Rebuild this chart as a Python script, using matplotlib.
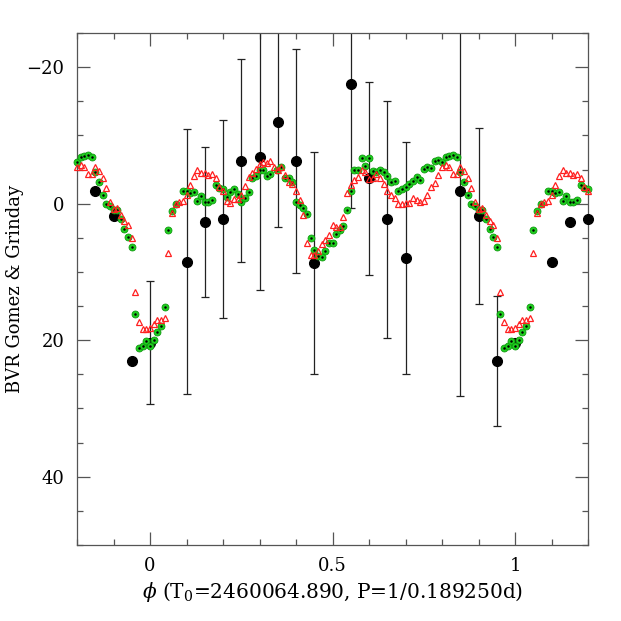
import matplotlib
matplotlib.use('Agg')
import matplotlib.pyplot as plt
from matplotlib.ticker import MultipleLocator, FuncFormatter
import numpy as np

plt.rcParams['font.family'] = ['DejaVu Serif']
plt.rcParams['mathtext.fontset'] = 'dejavuserif'

# black points with error bars (phase 0..1)
ph_b = [0.0, 0.1, 0.15, 0.2, 0.25, 0.3, 0.35, 0.4, 0.45, 0.55, 0.6, 0.65, 0.7, 0.85, 0.9, 0.95]
val_b = [20.4, 8.5, 2.65, 2.2, -6.3, -6.8, -11.9, -6.3, 8.7, -17.5, -3.7, 2.3, 7.9, -1.9, 1.8, 23.1]
err_b = [9.0, 19.4, 11.0, 14.5, 14.85, 19.5, 15.25, 16.4, 16.2, 18.2, 14.1, 17.4, 17.0, 30.1, 12.9, 9.5]

# green circles
ph_g = [0.00, 0.01, 0.02, 0.03, 0.04, 0.05, 0.06, 0.07, 0.089, 0.10, 0.11, 0.12, 0.13, 0.14,
        0.15, 0.16, 0.17, 0.18, 0.19, 0.20, 0.21, 0.22, 0.23, 0.24, 0.25, 0.26, 0.27, 0.28,
        0.29, 0.30, 0.31, 0.32, 0.33, 0.347, 0.36, 0.37, 0.38, 0.39, 0.40, 0.41, 0.42, 0.43,
        0.44, 0.45, 0.46, 0.47, 0.48, 0.49, 0.50, 0.51, 0.52, 0.53, 0.54, 0.55, 0.56, 0.57,
        0.58, 0.59, 0.60, 0.61, 0.62, 0.63, 0.64, 0.65, 0.66, 0.67, 0.68, 0.69, 0.70, 0.71,
        0.72, 0.73, 0.74, 0.75, 0.76, 0.77, 0.78, 0.79, 0.80, 0.81, 0.82, 0.83, 0.84, 0.85,
        0.86, 0.87, 0.88, 0.89, 0.90, 0.91, 0.92, 0.93, 0.94, 0.95, 0.96, 0.97, 0.98, 0.99]
val_g = [20.8, 19.9, 18.8, 17.9, 15.1, 3.9, 1.1, 0.0, -1.8, -1.9, -1.6, -1.7, -0.4, -1.1,
         -0.3, -0.3, -0.5, -2.8, -2.3, -2.2, -1.0, -1.7, -2.1, -1.4, -0.2, -0.9, -1.7, -3.8,
         -4.0, -5.0, -5.0, -4.1, -4.4, -5.0, -5.3, -3.7, -3.7, -3.2, -0.2, 0.15, 0.7, 1.5,
         5.0, 6.8, 7.6, 7.8, 6.9, 5.7, 5.7, 4.4, 3.9, 3.3, 0.9, -1.9, -5.0, -5.0,
         -6.7, -5.5, -6.7, -4.8, -4.6, -5.0, -4.6, -4.1, -3.1, -3.3, -1.8, -2.2, -2.4, -2.9,
         -3.3, -3.9, -3.5, -5.1, -5.3, -5.2, -6.2, -6.4, -6.1, -6.8, -7.0, -7.1, -6.9, -4.6,
         -3.1, -1.3, 0.05, 0.4, 0.9, 0.9, 2.3, 3.7, 4.9, 6.3, 16.1, 21.1, 20.9, 20.1]

# red triangles
ph_r = [0.00, 0.01, 0.02, 0.03, 0.04, 0.05, 0.06, 0.07, 0.08, 0.09, 0.10, 0.11, 0.12, 0.13,
        0.14, 0.15, 0.16, 0.17, 0.18, 0.19, 0.20, 0.21, 0.22, 0.23, 0.24, 0.25, 0.26, 0.27,
        0.28, 0.29, 0.30, 0.31, 0.32, 0.33, 0.34, 0.35, 0.36, 0.37, 0.38, 0.39, 0.40, 0.41,
        0.42, 0.43, 0.44, 0.45, 0.46, 0.47, 0.48, 0.49, 0.50, 0.51, 0.52, 0.53, 0.54, 0.55,
        0.56, 0.57, 0.58, 0.59, 0.60, 0.61, 0.62, 0.63, 0.64, 0.65, 0.66, 0.67, 0.68, 0.69,
        0.70, 0.71, 0.72, 0.73, 0.74, 0.75, 0.76, 0.77, 0.78, 0.79, 0.80, 0.81, 0.82, 0.83,
        0.84, 0.85, 0.86, 0.87, 0.88, 0.89, 0.90, 0.91, 0.92, 0.93, 0.94, 0.95, 0.96, 0.97,
        0.98, 0.99]
val_r = [18.2, 17.7, 17.0, 17.1, 16.8, 7.3, 1.4, 0.0, -0.3, -0.4, -1.3, -2.8, -4.0, -5.0,
         -4.5, -4.5, -4.2, -4.3, -3.7, -2.5, -1.8, -0.4, -0.05, -0.7, -0.7, -1.3, -2.6, -3.9,
         -4.5, -5.1, -5.8, -6.1, -5.9, -6.2, -5.3, -5.0, -5.4, -4.2, -3.2, -2.9, -1.9, -0.6,
         1.7, 5.7, 7.5, 7.5, 6.9, 5.9, 5.3, 4.6, 3.1, 3.4, 3.4, 2.0, -1.6, -2.7,
         -3.5, -3.9, -4.9, -4.6, -3.6, -3.8, -4.3, -3.8, -2.9, -1.9, -1.3, -0.9, 0.0, 0.0,
         -0.15, -0.15, -0.8, -0.5, -0.3, -0.4, -1.3, -2.4, -3.0, -4.2, -5.3, -5.7, -5.4, -4.4,
         -4.4, -5.3, -4.8, -3.8, -2.3, -0.3, 0.8, 0.7, 1.6, 2.5, 3.2, 5.1, 13.0, 17.3,
         18.3, 18.4]

xmin, xmax = -0.2, 1.2


def wrap(ph, val):
    # repeat the phased data over the shown range
    ph = np.asarray(ph)
    val = np.asarray(val)
    x = np.concatenate([ph - 1, ph, ph + 1])
    y = np.concatenate([val, val, val])
    keep = (x >= xmin - 1e-9) & (x <= xmax + 1e-9)
    return x[keep], y[keep]


fig = plt.figure(figsize=(6.21, 6.21), dpi=100)
ax = fig.add_axes([0.124, 0.1224, 0.823, 0.8245])

# error bars only on the 0..1 points
ax.errorbar(ph_b, val_b, yerr=err_b, fmt='none', ecolor='#222222',
            elinewidth=0.9, capsize=3, capthick=0.9, zorder=2)
xb, yb = wrap(ph_b, val_b)
ax.plot(xb, yb, 'o', color='black', ms=7, zorder=3, clip_on=False)

xg, yg = wrap(ph_g, val_g)
ax.plot(xg, yg, 'o', mfc='#1fd11f', mec='#119911', mew=0.6, ms=5, zorder=4, clip_on=False)
ax.plot(xg, yg, '.', color='black', ms=1.6, zorder=4.5, clip_on=False)

xr, yr = wrap(ph_r, val_r)
ax.plot(xr, yr, '^', mfc='none', mec='#ff2020', mew=0.9, ms=4.3, zorder=5, clip_on=False)

ax.set_xlim(xmin, xmax)
ax.set_ylim(50, -25)

ax.xaxis.set_major_locator(MultipleLocator(0.5))
ax.xaxis.set_minor_locator(MultipleLocator(0.1))
ax.yaxis.set_major_locator(MultipleLocator(20))
ax.yaxis.set_minor_locator(MultipleLocator(5))
ax.xaxis.set_major_formatter(FuncFormatter(lambda v, p: '%g' % v))
ax.yaxis.set_major_formatter(FuncFormatter(lambda v, p: ('%g' % v).replace('-', '\u2212')))

ax.tick_params(which='both', direction='in', top=True, right=True,
               color='#555555', labelsize=13, width=0.9)
ax.tick_params(which='major', length=9.5, pad=9)
ax.tick_params(which='minor', length=4.5)
for s in ax.spines.values():
    s.set_color('#555555')
    s.set_linewidth(0.9)

ax.set_xlabel(r'$\phi$ (T$_0$=2460064.890, P=1/0.189250d)', fontsize=14.5, labelpad=3)
ax.set_ylabel('BVR Gomez & Grinday', fontsize=13, labelpad=2)

fig.savefig('out.png', dpi=100)
